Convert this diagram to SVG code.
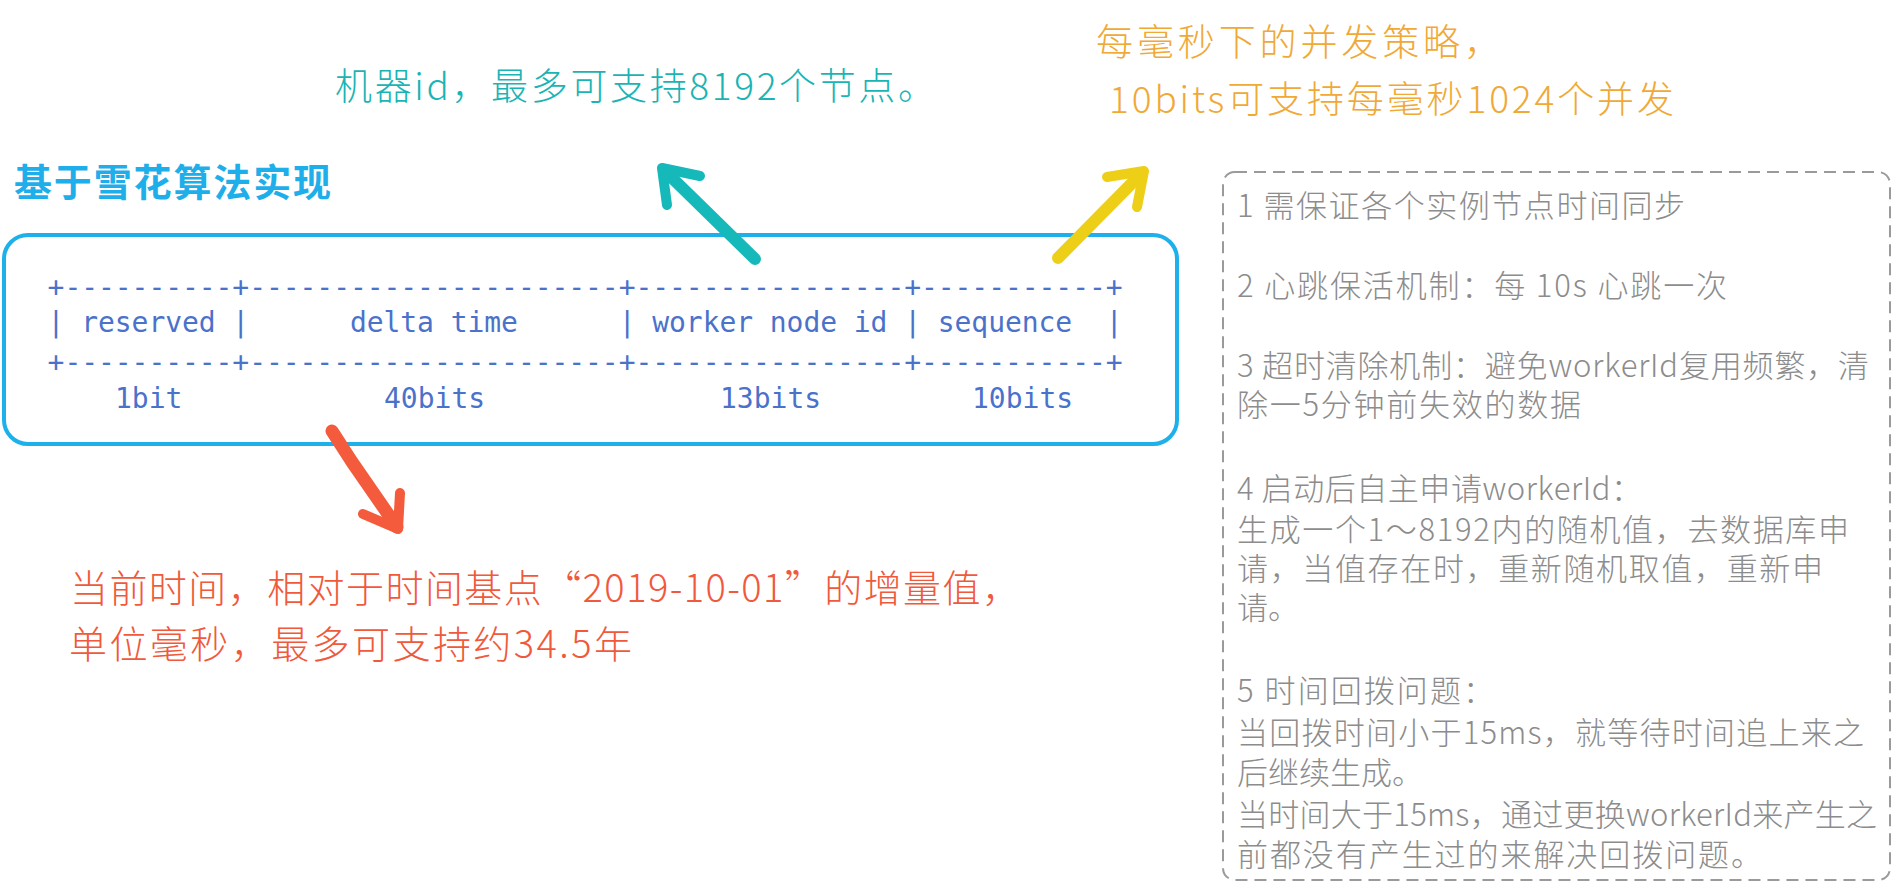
<svg xmlns="http://www.w3.org/2000/svg" width="1894" height="886" viewBox="0 0 1894 886">
<style>
.hand{font-family:"Noto Sans CJK SC","Noto Sans",sans-serif;font-weight:300}
.mono{font-family:"DejaVu Sans Mono","Liberation Mono",monospace;font-size:28px;fill:#4b72cb}
.note{font-family:"Noto Sans CJK SC","Noto Sans",sans-serif;font-size:31px;fill:#8c8c8c;font-weight:300}
.arrow{fill:none;stroke-linecap:round;stroke-linejoin:round}
</style>
<rect width="1894" height="886" fill="#ffffff"/>

<g id="title">
<text x="14" y="196" font-family="'Noto Sans CJK SC',sans-serif" font-weight="bold" font-size="38" fill="#1eaeea" textLength="317">基于雪花算法实现</text>
</g>

<g id="snowflake-table">
<rect x="4" y="235" width="1173" height="209" rx="24" ry="24" fill="none" stroke="#1eb0ea" stroke-width="4"/>
<text class="mono" x="47.6" y="297" textLength="1075" lengthAdjust="spacing">+----------+----------------------+----------------+-----------+</text>
<text class="mono" x="47.6" y="332" textLength="1075" lengthAdjust="spacing" xml:space="preserve" style="white-space:pre">| reserved |      delta time      | worker node id | sequence  |</text>
<text class="mono" x="47.6" y="372" textLength="1075" lengthAdjust="spacing">+----------+----------------------+----------------+-----------+</text>
<text class="mono" x="115" y="408">1bit</text>
<text class="mono" x="384" y="408">40bits</text>
<text class="mono" x="720" y="408">13bits</text>
<text class="mono" x="972" y="408">10bits</text>
</g>

<g id="worker-label">
<text class="hand" x="335" y="100" font-size="37" fill="#1ab4b4" textLength="600">机器id，最多可支持8192个节点。</text>
</g>

<g id="sequence-label">
<text class="hand" x="1096" y="56" font-size="37" fill="#f0a936" textLength="405">每毫秒下的并发策略，</text>
<text class="hand" x="1109" y="113" font-size="37" fill="#f0a936" textLength="565">10bits可支持每毫秒1024个并发</text>
</g>

<g id="delta-label">
<text class="hand" x="70" y="602" font-size="38" fill="#f0593b" textLength="950">当前时间，相对于时间基点“2019-10-01”的增量值，</text>
<text class="hand" x="69" y="658" font-size="38" fill="#f0593b" textLength="563">单位毫秒，最多可支持约34.5年</text>
</g>

<g id="notes">
<rect x="1223" y="172" width="667" height="708" rx="12" ry="12" fill="none" stroke="#9a9a9a" stroke-width="2" stroke-dasharray="12 7"/>
<text class="note" x="1237" y="217" textLength="448">1 需保证各个实例节点时间同步</text>
<text class="note" x="1237" y="297" textLength="490">2 心跳保活机制：每 10s 心跳一次</text>
<text class="note" x="1237" y="377" textLength="632">3 超时清除机制：避免workerId复用频繁，清</text>
<text class="note" x="1237" y="416" textLength="344">除一5分钟前失效的数据</text>
<text class="note" x="1237" y="500" textLength="405">4 启动后自主申请workerId：</text>
<text class="note" x="1237" y="541" textLength="612">生成一个1～8192内的随机值，去数据库申</text>
<text class="note" x="1237" y="580" textLength="586">请，当值存在时，重新随机取值，重新申</text>
<text class="note" x="1237" y="619">请。</text>
<text class="note" x="1237" y="702" textLength="257">5 时间回拨问题：</text>
<text class="note" x="1237" y="744" textLength="627">当回拨时间小于15ms，就等待时间追上来之</text>
<text class="note" x="1237" y="784">后继续生成。</text>
<text class="note" x="1237" y="826" textLength="640">当时间大于15ms，通过更换workerId来产生之</text>
<text class="note" x="1237" y="866" textLength="525">前都没有产生过的来解决回拨问题。</text>
</g>

<g id="connectors">
<g class="arrow" stroke="#15b9b9">
<path d="M755 259 L664 170" stroke-width="12"/>
<path d="M700 176 L662 168 L667 205" stroke-width="10"/>
</g>
<g class="arrow" stroke="#eecf17">
<path d="M1058 258 L1141 174" stroke-width="12"/>
<path d="M1107 177 L1144 171 L1137 207" stroke-width="10"/>
</g>
<g class="arrow" stroke="#f35b3c">
<path d="M332 431 L352 462 L397 527" stroke-width="13"/>
<path d="M363 514 L398 529 L400 493" stroke-width="10"/>
</g>
</g>
</svg>
